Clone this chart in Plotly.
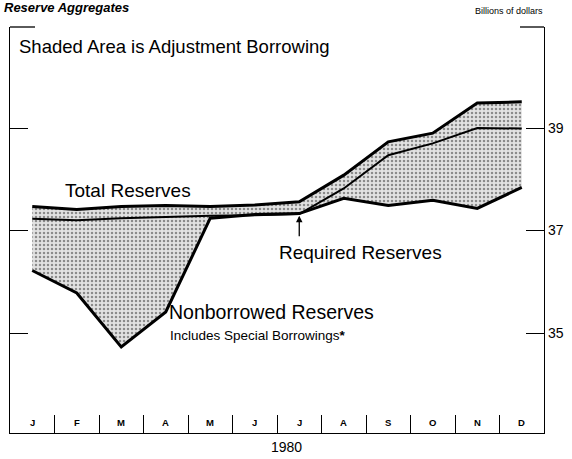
import plotly.graph_objects as go

months = ["J", "F", "M", "A", "M", "J", "J", "A", "S", "O", "N", "D"]
total_reserves = [37.47, 37.41, 37.47, 37.49, 37.47, 37.50, 37.56, 38.08, 38.73, 38.90, 39.49, 39.51]
required_reserves = [37.23, 37.20, 37.24, 37.27, 37.29, 37.30, 37.32, 37.82, 38.47, 38.70, 39.00, 38.99]
nonborrowed_reserves = [36.22, 35.78, 34.73, 35.41, 37.24, 37.31, 37.33, 37.63, 37.49, 37.59, 37.43, 37.84]
y_ticks = [35, 37, 39]
year_label = "1980"

x = list(range(len(months)))
FONT = "Liberation Sans, Arial, sans-serif"
W, H = 572, 459
L, R, T, B = 10, 544, 27, 433  # plot box in pixels


def px(v):
    return (v - L) / (R - L)


def py(v):
    return (B - v) / (B - T)


fig = go.Figure()
fig.add_trace(go.Scatter(x=x, y=nonborrowed_reserves, mode="lines",
                         line=dict(color="black", width=3), showlegend=False))
fig.add_trace(go.Scatter(x=x, y=total_reserves, mode="lines", fill="tonexty",
                         fillcolor="rgba(0,0,0,0)",
                         fillpattern=dict(shape=".", fgcolor="#333", bgcolor="#e2e2e2",
                                          size=4, solidity=0.3),
                         line=dict(color="black", width=3), showlegend=False))
fig.add_trace(go.Scatter(x=x, y=required_reserves, mode="lines",
                         line=dict(color="black", width=2), showlegend=False))

# month labels
for i, m in enumerate(months):
    fig.add_annotation(x=i, y=py(422), xref="x", yref="paper", text="<b>" + m + "</b>",
                       showarrow=False, yanchor="middle",
                       font=dict(family=FONT, size=9.5, color="black"))

ann = [
    ("Shaded Area is Adjustment Borrowing", 17, 46, 18.5),
    ("Total Reserves", 63, 190, 19),
    ("Required Reserves", 277, 252, 19),
    ("Nonborrowed Reserves", 167, 312, 19.5),
    ("Includes Special Borrowings<b>*</b>", 168, 335, 13.5),
]
for t, xx, yy, fs in ann:
    fig.add_annotation(x=px(xx), y=py(yy), xref="paper", yref="paper", text=t,
                       showarrow=False, xanchor="left", yanchor="middle",
                       font=dict(family=FONT, size=fs, color="black"))

# arrow to required reserves
fig.add_annotation(x=6, y=required_reserves[6] - 0.03, xref="x", yref="y", ax=0, ay=22,
                   text="", showarrow=True, arrowhead=2, arrowsize=1, arrowwidth=1.3,
                   arrowcolor="black")

fig.add_annotation(x=px(545), y=py(11), xref="paper", yref="paper",
                   text="Billions of dollars", showarrow=False, xanchor="right",
                   yanchor="middle", font=dict(family=FONT, size=9, color="black"))
fig.add_annotation(x=px(2), y=py(7), xref="paper", yref="paper",
                   text="<b><i>Reserve Aggregates</i></b>", showarrow=False, xanchor="left",
                   yanchor="middle", font=dict(family=FONT, size=13, color="black"))
fig.add_annotation(x=px(286), y=py(447), xref="paper", yref="paper",
                   text=year_label, showarrow=False, yanchor="middle",
                   font=dict(family=FONT, size=14, color="black"))

# top corner brackets
fig.add_shape(type="line", xref="paper", yref="paper", x0=0, x1=px(35),
              y0=1, y1=1, line=dict(color="black", width=1.3))
fig.add_shape(type="line", xref="paper", yref="paper", x0=px(520), x1=1,
              y0=1, y1=1, line=dict(color="black", width=1.3))

fig.update_layout(
    width=W, height=H,
    margin=dict(l=L, r=W - R, t=T, b=H - B, autoexpand=False),
    plot_bgcolor="white", paper_bgcolor="white",
    font=dict(family=FONT, color="black"),
    xaxis=dict(range=[-0.5, 11.5], tickvals=[i + 0.5 for i in range(11)],
               ticks="inside", ticklen=18, tickwidth=1.2, tickcolor="black",
               showticklabels=False, showgrid=False, zeroline=False,
               showline=True, linecolor="black", linewidth=1.3, automargin=False),
    yaxis=dict(range=[37 - (B - 230.5) / 51.25, 37 + (230.5 - T) / 51.25],
               side="right", tickvals=y_ticks,
               ticks="inside", ticklen=18, tickwidth=1.2, tickcolor="black",
               showgrid=False, zeroline=False, showline=True, mirror="ticks",
               linecolor="black", linewidth=1.3, automargin=False,
               tickfont=dict(size=14)),
)

fig.write_html("out.html", config={"displayModeBar": False},
               post_script="document.body.style.margin='0px';"
                           "document.body.style.overflow='hidden';")
